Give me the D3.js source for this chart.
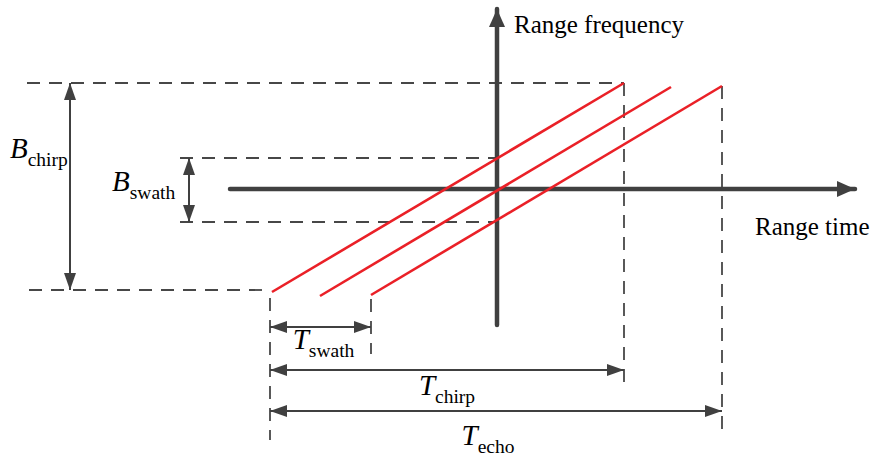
<!DOCTYPE html>
<html>
<head>
<meta charset="utf-8">
<script src="https://cdn.jsdelivr.net/npm/d3@7"></script>
<style>
  body { margin: 0; background: #fff; }
  text { font-family: "Times New Roman", "Liberation Serif", serif; fill: #000; }
</style>
</head>
<body>
<svg id="chart" width="874" height="458"></svg>
<script>
// chirp data (time / frequency units, origin at the axes crossing)
var chirpStart = [-4.5, -3.54, -2.52];
var chirpEnd = [2.54, 3.48, 4.5];
var chirpLow = [-2.06, -2.14, -2.12];
var chirpHigh = [2.12, 2.04, 2.06];

// bandwidths
var bandNames = ["chirp", "swath"];
var bandTop = [2.12, 0.62];
var bandBottom = [-2.02, -0.66];

// durations
var spanNames = ["swath", "chirp", "echo"];
var spanStart = [-4.54, -4.54, -4.54];
var spanEnd = [-2.52, 2.54, 4.5];

var axisLabels = ["Range time", "Range frequency"];

var svg = d3.select('#chart');
var grey = '#404040';
var red = '#ea2027';

var xScale = d3.scaleLinear().domain([-10, 10]).range([-3, 997]);
var yScale = d3.scaleLinear().domain([-5.5, 4]).range([464, -11]);

var defs = svg.append('defs');
function marker(id, len, wid) {
    defs.append('marker')
        .attr('id', id)
        .attr('markerUnits', 'userSpaceOnUse')
        .attr('viewBox', '0 0 ' + len + ' ' + wid)
        .attr('refX', len).attr('refY', wid / 2)
        .attr('markerWidth', len).attr('markerHeight', wid)
        .attr('orient', 'auto-start-reverse')
        .append('path')
        .attr('d', 'M0,0 L' + len + ',' + (wid / 2) + ' L0,' + wid + ' Z')
        .attr('fill', grey);
}
marker('dimHead', 17, 12);
marker('axisHead', 18, 16);

function line(x1, y1, x2, y2) {
    return svg.append('line')
        .attr('x1', x1).attr('y1', y1)
        .attr('x2', x2).attr('y2', y2);
}

// dashed guides
var guides = svg.append('g').attr('class', 'guides');
function dashed(x1, y1, x2, y2) {
    guides.append('line')
        .attr('x1', x1).attr('y1', y1).attr('x2', x2).attr('y2', y2)
        .attr('stroke', '#474747')
        .attr('stroke-width', 1.8)
        .attr('stroke-dasharray', '13,9');
}
// bandwidth guides
dashed(xScale(-9.4), yScale(bandTop[0]), xScale(chirpEnd[0]), yScale(bandTop[0]));
dashed(xScale(-9.36), yScale(bandBottom[0]), xScale(-4.7), yScale(bandBottom[0]));
dashed(xScale(-6.34), yScale(bandTop[1]), xScale(0), yScale(bandTop[1]));
dashed(xScale(-6.34), yScale(bandBottom[1]), xScale(0), yScale(bandBottom[1]));
// duration guides
dashed(xScale(spanStart[0]), yScale(-2.18), xScale(spanStart[0]), yScale(-5.02));
dashed(xScale(spanEnd[0]), yScale(-2.2), xScale(spanEnd[0]), yScale(-3.3));
dashed(xScale(spanEnd[1]), yScale(chirpHigh[0]), xScale(spanEnd[1]), yScale(-4.02));
dashed(xScale(spanEnd[2]), yScale(chirpHigh[2]), xScale(spanEnd[2]), yScale(-4.88));

// axes
line(xScale(-5.34), yScale(0), xScale(7.16), yScale(0))
    .attr('stroke', grey).attr('stroke-width', 4.5)
    .attr('stroke-linecap', 'round')
    .attr('marker-end', 'url(#axisHead)');
line(xScale(0), yScale(-2.72), xScale(0), yScale(3.6))
    .attr('stroke', grey).attr('stroke-width', 4.5)
    .attr('stroke-linecap', 'round')
    .attr('marker-end', 'url(#axisHead)');

svg.append('text')
    .attr('x', 755).attr('y', 235)
    .attr('font-size', 25)
    .text(axisLabels[0]);
svg.append('text')
    .attr('x', xScale(0) + 17).attr('y', 33)
    .attr('font-size', 25)
    .text(axisLabels[1]);

// chirps
svg.selectAll('.chirp')
    .data(d3.range(chirpStart.length))
    .enter().append('line')
    .attr('class', 'chirp')
    .attr('x1', function(i) { return xScale(chirpStart[i]); })
    .attr('y1', function(i) { return yScale(chirpLow[i]); })
    .attr('x2', function(i) { return xScale(chirpEnd[i]); })
    .attr('y2', function(i) { return yScale(chirpHigh[i]); })
    .attr('stroke', red)
    .attr('stroke-width', 2.6);

// label with subscript
function label(x, y, main, sub, anchor) {
    var t = svg.append('text')
        .attr('x', x).attr('y', y)
        .attr('text-anchor', anchor || 'start');
    t.append('tspan').attr('font-size', 29).attr('font-style', 'italic').text(main);
    t.append('tspan').attr('font-size', 19.5).attr('dy', 7.5).text(sub);
}

// bandwidth arrows
var bandArrowT = [-8.54, -6.16];
bandNames.forEach(function(name, i) {
    line(xScale(bandArrowT[i]), yScale(bandTop[i]), xScale(bandArrowT[i]), yScale(bandBottom[i]))
        .attr('stroke', grey).attr('stroke-width', 2)
        .attr('marker-start', 'url(#dimHead)')
        .attr('marker-end', 'url(#dimHead)');
});
label(xScale(bandArrowT[0]) - 60, 158, 'B', bandNames[0]);
label(xScale(bandArrowT[1]) - 77, 191, 'B', bandNames[1]);

// duration arrows
var spanLevel = [-2.76, -3.62, -4.44];
spanNames.forEach(function(name, i) {
    var y = yScale(spanLevel[i]);
    line(xScale(spanStart[i]), y, xScale(spanEnd[i]), y)
        .attr('stroke', grey).attr('stroke-width', 2)
        .attr('marker-start', 'url(#dimHead)')
        .attr('marker-end', 'url(#dimHead)');
});
label((xScale(spanStart[0]) + xScale(spanEnd[0])) / 2 + 3, 349, 'T', spanNames[0], 'middle');
label((xScale(spanStart[1]) + xScale(spanEnd[1])) / 2, 395, 'T', spanNames[1], 'middle');
label((xScale(spanStart[2]) + xScale(spanEnd[2])) / 2 - 8, 445, 'T', spanNames[2], 'middle');
</script>
</body>
</html>
